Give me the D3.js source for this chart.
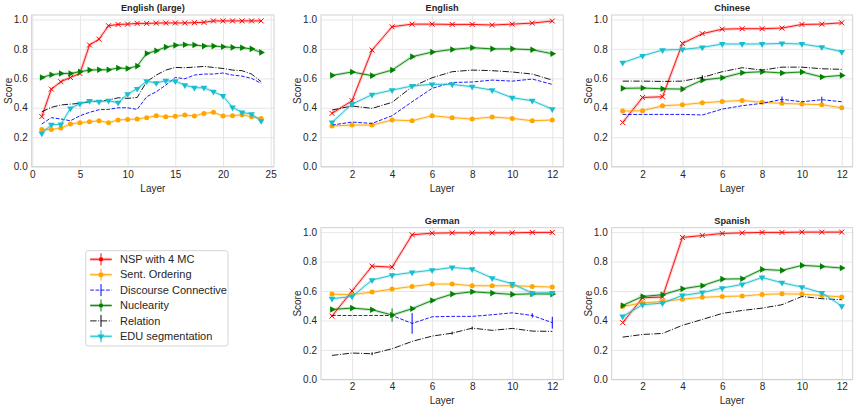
<!DOCTYPE html>
<html>
<head>
<meta charset="utf-8">
<script src="https://cdn.jsdelivr.net/npm/d3@7"></script>
<style>
  body { margin: 0; background: #fff; }
  svg { font-family: "Liberation Sans", Arial, sans-serif; }
</style>
</head>
<body>
<div id="chart"></div>
<script>
// ---- data ----
var seriesNames = ["NSP with 4 MC", "Sent. Ordering", "Discourse Connective", "Nuclearity", "Relation", "EDU segmentation"];

var layers24 = d3.range(1, 25);
var layers12 = d3.range(1, 13);

var enLargeNsp  = [0.34,0.527,0.577,0.606,0.633,0.826,0.866,0.957,0.966,0.968,0.973,0.973,0.975,0.976,0.976,0.976,0.978,0.98,0.99,0.99,0.99,0.99,0.99,0.99];
var enLargeSent = [0.253,0.253,0.262,0.29,0.299,0.305,0.312,0.299,0.317,0.321,0.324,0.333,0.346,0.339,0.342,0.351,0.344,0.362,0.369,0.344,0.346,0.353,0.339,0.328];
var enLargeDisc = [0.29,0.333,0.324,0.312,0.346,0.369,0.387,0.389,0.4,0.4,0.389,0.475,0.509,0.554,0.606,0.597,0.622,0.629,0.629,0.636,0.622,0.615,0.6,0.566];
var enLargeNuc  = [0.606,0.624,0.633,0.633,0.645,0.656,0.658,0.658,0.67,0.667,0.683,0.769,0.787,0.812,0.824,0.828,0.826,0.819,0.819,0.814,0.81,0.808,0.8,0.776];
var enLargeRel  = [0.373,0.403,0.419,0.425,0.43,0.441,0.446,0.452,0.468,0.464,0.47,0.577,0.622,0.656,0.674,0.672,0.676,0.681,0.674,0.667,0.656,0.652,0.629,0.577];
var enLargeEdu  = [0.226,0.285,0.287,0.396,0.428,0.446,0.441,0.448,0.434,0.493,0.529,0.581,0.568,0.584,0.581,0.554,0.536,0.536,0.509,0.48,0.403,0.369,0.357,0.31];

var enNsp  = [0.362,0.448,0.792,0.95,0.968,0.968,0.966,0.966,0.962,0.968,0.975,0.989];
var enSent = [0.276,0.283,0.283,0.317,0.312,0.346,0.333,0.324,0.337,0.328,0.312,0.317];
var enDisc = [0.283,0.303,0.294,0.346,0.441,0.532,0.572,0.575,0.588,0.581,0.595,0.559];
var enNuc  = [0.62,0.643,0.618,0.656,0.747,0.778,0.796,0.808,0.8,0.8,0.794,0.767];
var enRel  = [0.385,0.412,0.396,0.437,0.543,0.604,0.645,0.656,0.652,0.643,0.629,0.588];
var enEdu  = [0.301,0.425,0.489,0.52,0.548,0.559,0.559,0.543,0.52,0.468,0.448,0.391];

var zhNsp  = [0.3,0.47,0.475,0.837,0.903,0.934,0.937,0.937,0.941,0.966,0.968,0.977];
var zhSent = [0.378,0.38,0.414,0.421,0.434,0.443,0.45,0.437,0.43,0.425,0.421,0.4];
var zhDisc = [0.355,0.355,0.355,0.355,0.351,0.391,0.414,0.43,0.457,0.441,0.455,0.441];
var zhNuc  = [0.532,0.534,0.529,0.527,0.588,0.604,0.638,0.645,0.636,0.643,0.609,0.62];
var zhRel  = [0.581,0.581,0.579,0.581,0.606,0.645,0.672,0.656,0.676,0.676,0.665,0.661];
var zhEdu  = [0.706,0.753,0.792,0.796,0.81,0.833,0.833,0.833,0.837,0.833,0.812,0.78];
var zhDiscErr = [0,0,0,0,0,0,0,0,0.02,0,0.02,0];
var zhRelErr  = [0,0,0,0,0.015,0,0,0,0,0,0,0];

var deNsp  = [0.43,0.6,0.769,0.762,0.982,0.993,0.995,0.995,0.995,0.995,0.998,0.998];
var deSent = [0.579,0.575,0.593,0.613,0.631,0.647,0.647,0.636,0.636,0.636,0.631,0.627];
var deDisc = [0.434,0.434,0.434,0.434,0.38,0.425,0.428,0.428,0.439,0.452,0.434,0.385];
var deNuc  = [0.475,0.484,0.473,0.437,0.48,0.536,0.579,0.595,0.586,0.577,0.581,0.579];
var deRel  = [0.163,0.179,0.174,0.208,0.258,0.294,0.314,0.348,0.333,0.346,0.328,0.326];
var deEdu  = [0.548,0.563,0.674,0.708,0.726,0.742,0.76,0.749,0.688,0.649,0.586,0.588];
var deDiscErr = [0,0,0,0,0.07,0,0,0,0,0,0.015,0.04];
var deNucErr  = [0,0,0,0.045,0,0,0,0,0,0,0,0];
var deRelErr  = [0,0,0.01,0,0,0,0.01,0.01,0,0,0,0];

var esNsp  = [0.385,0.554,0.559,0.964,0.977,0.991,0.995,0.998,0.998,1.0,1.0,1.0];
var esSent = [0.495,0.52,0.529,0.545,0.557,0.563,0.566,0.577,0.581,0.579,0.57,0.559];
var esNuc  = [0.502,0.563,0.575,0.615,0.636,0.681,0.683,0.747,0.74,0.774,0.767,0.756];
var esRel  = [0.287,0.305,0.312,0.367,0.407,0.448,0.468,0.484,0.507,0.563,0.548,0.541];
var esEdu  = [0.428,0.507,0.518,0.57,0.59,0.62,0.645,0.692,0.656,0.627,0.588,0.498];

var ticks24 = [0, 5, 10, 15, 20, 25];
var ticks12 = [2, 4, 6, 8, 10, 12];
var yTicks  = [0, 0.2, 0.4, 0.6, 0.8, 1.0];

// ---- styles per series ----
var styles = [
  { color: "#ff0000", marker: "x",      dash: null,            halo: true },
  { color: "#ffa500", marker: "circle", dash: null,            halo: true },
  { color: "#0000ff", marker: "none",   dash: "3.7,1.6",       halo: false },
  { color: "#008000", marker: "right",  dash: null,            halo: true },
  { color: "#000000", marker: "none",   dash: "6.4,1.6,1,1.6", halo: false },
  { color: "#17becf", marker: "down",   dash: null,            halo: true }
];

var panels = [
  { title: "English (large)", left: 31.7, top: 15, w: 242.3, xDom: [-0.06, 25.35], xTicks: ticks24, layers: layers24,
    series: [enLargeNsp, enLargeSent, enLargeDisc, enLargeNuc, enLargeRel, enLargeEdu], errs: [] },
  { title: "English", left: 321, top: 15, w: 242.3, xDom: [0.45, 12.55], xTicks: ticks12, layers: layers12,
    series: [enNsp, enSent, enDisc, enNuc, enRel, enEdu], errs: [] },
  { title: "Chinese", left: 611.7, top: 15, w: 241, xDom: [0.45, 12.55], xTicks: ticks12, layers: layers12,
    series: [zhNsp, zhSent, zhDisc, zhNuc, zhRel, zhEdu], errs: [null, null, zhDiscErr, null, zhRelErr, null] },
  { title: "German", left: 321, top: 227.7, w: 242.3, xDom: [0.45, 12.55], xTicks: ticks12, layers: layers12,
    series: [deNsp, deSent, deDisc, deNuc, deRel, deEdu], errs: [null, null, deDiscErr, deNucErr, deRelErr, null] },
  { title: "Spanish", left: 611.7, top: 227.7, w: 241, xDom: [0.45, 12.55], xTicks: ticks12, layers: layers12,
    series: [esNsp, esSent, null, esNuc, esRel, esEdu], errs: [] }
];

var panelH = 151.7;
var gridColor = "#e3e3e3";
var textColor = "#262626";

var svg = d3.select("#chart").append("svg")
  .attr("width", 858)
  .attr("height", 407);

function drawMarker(g, type, color, cx, cy) {
  if (type === "x") {
    var s = 2.5;
    g.append("path")
      .attr("d", "M" + (cx - s) + "," + (cy - s) + "L" + (cx + s) + "," + (cy + s) +
                 "M" + (cx - s) + "," + (cy + s) + "L" + (cx + s) + "," + (cy - s))
      .attr("stroke", color).attr("stroke-width", 1).attr("fill", "none");
  } else if (type === "circle") {
    g.append("circle").attr("cx", cx).attr("cy", cy).attr("r", 2.5).attr("fill", color);
  } else if (type === "right" || type === "down") {
    var rot = type === "right" ? 90 : 180;
    g.append("path")
      .attr("d", d3.symbol().type(d3.symbolTriangle).size(19)())
      .attr("transform", "translate(" + cx + "," + cy + ") rotate(" + rot + ")")
      .attr("fill", color);
  }
}

panels.forEach(function(p) {
  var g = svg.append("g").attr("transform", "translate(" + p.left + "," + p.top + ")");
  var x = d3.scaleLinear().domain(p.xDom).range([0, p.w]);
  var y = d3.scaleLinear().domain([0, 1.03]).range([panelH, 0]);

  // grid + tick labels
  var xa = g.append("g").attr("transform", "translate(0," + panelH + ")")
    .call(d3.axisBottom(x).tickValues(p.xTicks).tickSize(-panelH).tickPadding(4).tickFormat(d3.format("d")));
  var ya = g.append("g")
    .call(d3.axisLeft(y).tickValues(yTicks).tickSize(-p.w).tickPadding(4).tickFormat(d3.format(".1f")));
  [xa, ya].forEach(function(a) {
    a.select(".domain").remove();
    a.selectAll(".tick line").attr("stroke", gridColor).attr("stroke-width", 0.9);
    a.selectAll(".tick text").attr("fill", textColor).style("font-size", "10px")
      .style("font-family", "'Liberation Sans', Arial, sans-serif");
  });

  g.append("rect").attr("width", p.w).attr("height", panelH)
    .attr("fill", "none").attr("stroke", "#cccccc").attr("stroke-width", 0.9);

  g.append("text").attr("x", p.w / 2).attr("y", -4).attr("text-anchor", "middle")
    .attr("font-weight", "bold").attr("font-size", "9.2px").attr("fill", textColor).text(p.title);
  g.append("text").attr("x", p.w / 2).attr("y", panelH + 25).attr("text-anchor", "middle")
    .attr("font-size", "10px").attr("fill", textColor).text("Layer");
  g.append("text").attr("transform", "translate(-20," + (panelH / 2) + ") rotate(-90)")
    .attr("text-anchor", "middle").attr("font-size", "10px").attr("fill", textColor).text("Score");

  var line = d3.line()
    .x(function(d, i) { return x(p.layers[i]); })
    .y(function(d) { return y(d); });

  p.series.forEach(function(vals, si) {
    if (!vals) return;
    var st = styles[si];
    if (st.halo) {
      g.append("path").datum(vals).attr("d", line).attr("fill", "none")
        .attr("stroke", st.color).attr("stroke-opacity", 0.2).attr("stroke-width", 3)
        .attr("stroke-linejoin", "round");
    }
    g.append("path").datum(vals).attr("d", line).attr("fill", "none")
      .attr("stroke", st.color).attr("stroke-width", 0.9)
      .attr("stroke-dasharray", st.dash);
    var err = p.errs[si];
    if (err) {
      err.forEach(function(e, i) {
        if (!e) return;
        g.append("line").attr("x1", x(p.layers[i])).attr("x2", x(p.layers[i]))
          .attr("y1", y(vals[i] - e)).attr("y2", y(vals[i] + e))
          .attr("stroke", st.color).attr("stroke-width", 1);
      });
    }
    vals.forEach(function(v, i) {
      drawMarker(g, st.marker, st.color, x(p.layers[i]), y(v));
    });
  });
});

// legend
var lg = svg.append("g").attr("transform", "translate(85.7,250.7)");
lg.append("rect").attr("width", 142.3).attr("height", 95.3).attr("rx", 2.5)
  .attr("fill", "#fff").attr("stroke", "#d0d0d0").attr("stroke-width", 0.9);
seriesNames.forEach(function(name, i) {
  var st = styles[i];
  var cy = 8.6 + i * 15.4;
  var row = lg.append("g");
  if (st.halo) {
    row.append("line").attr("x1", 4.5).attr("x2", 26).attr("y1", cy).attr("y2", cy)
      .attr("stroke", st.color).attr("stroke-opacity", 0.3).attr("stroke-width", 3);
  }
  row.append("line").attr("x1", 4.5).attr("x2", 26).attr("y1", cy).attr("y2", cy)
    .attr("stroke", st.color).attr("stroke-width", 0.9).attr("stroke-dasharray", st.dash);
  row.append("line").attr("x1", 15.3).attr("x2", 15.3).attr("y1", cy - 6).attr("y2", cy + 6)
    .attr("stroke", st.color).attr("stroke-width", 1);
  var mk = st.marker === "none" ? "none" : (st.marker === "x" ? "square" : st.marker);
  if (mk === "square" || mk === "right") {
    row.append("rect").attr("x", 13.5).attr("y", cy - 1.8).attr("width", 3.6).attr("height", 3.6).attr("fill", st.color);
  } else {
    drawMarker(row, mk, st.color, 15.3, cy);
  }
  row.append("text").attr("x", 34.3).attr("y", cy + 3.8).attr("font-size", "11px")
    .attr("fill", textColor).text(name);
});
</script>
</body>
</html>
